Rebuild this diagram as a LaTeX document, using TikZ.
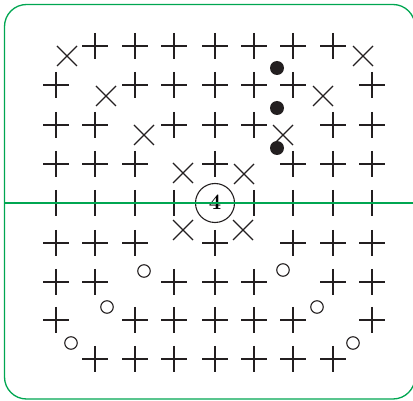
\documentclass[tikz,border=0pt]{standalone}
\usepackage{fontspec}
\begin{document}
\definecolor{ink}{HTML}{231F20}
\definecolor{frame}{HTML}{00A651}
\begin{tikzpicture}[x=1pt,y=-1pt,
  sym/.style={draw=ink,line width=1.3pt},
  plussym/.pic={\draw[sym] (-13,0) -- (13,0) (0,-13) -- (0,13);},
  crosssym/.pic={\draw[sym] (-10,-10) -- (10,10) (-10,10) -- (10,-10);},
  ring/.style={circle,draw=ink,line width=1.1pt,minimum size=12.5pt,inner sep=0pt},
  dotsym/.style={circle,fill=ink,minimum size=14pt,inner sep=0pt},
  greenline/.style={draw=frame,line width=1.3pt}]
\useasboundingbox (0,0) rectangle (413,401);
\begin{scope}
\clip (0,0) rectangle (413,401);
\draw[greenline,rounded corners=22pt] (4.5,4.5) rectangle (415,399);
\end{scope}
% grid positions
\def\colx{{56,95,135,174,215,254,293,333,372}}
\def\rowy{{46,85,125,164,203,243,282,320,359}}
\foreach \r/\cols in {0/{1,2,3,4,5,6,7},1/{0,2,3,4,5,6,8},2/{0,1,3,4,5,7,8},3/{0,1,2,4,6,7,8},4/{0,1,2,3,5,6,7,8},5/{0,1,2,4,6,7,8},6/{0,1,3,4,5,7,8},7/{0,2,3,4,5,6,8},8/{1,2,3,4,5,6,7}}{
  \foreach \c in \cols {
    \pgfmathsetmacro{\px}{\colx[\c]}
    \pgfmathsetmacro{\py}{\rowy[\r]}
    \pic at (\px,\py) {plussym};
  }
}
\foreach \x/\y in {67/56,106/96,144/135,183/173,363/56,323/96,283/135,244/174,183/230,243/230}
  \pic at (\x,\y) {crosssym};
\foreach \x/\y [count=\i] in {144/271,107/307,71/343,283/270,317/307,353/343}
  \node[ring] (o\i) at (\x,\y) {};
\foreach \y [count=\i] in {68,108,148}
  \node[dotsym] (d\i) at (277,\y) {};
\node[circle,draw=ink,line width=1.1pt,minimum size=39pt,inner sep=0pt] (four) at (215,203) {};
\node[font=\fontsize{22}{22}\selectfont\bfseries,inner sep=0pt] (fourtxt) at (215,202) {4};
\coordinate (la) at (4.5,203);
\coordinate (lb) at (413,203);
\draw[greenline] (la) -- (lb);
\end{tikzpicture}
\end{document}
